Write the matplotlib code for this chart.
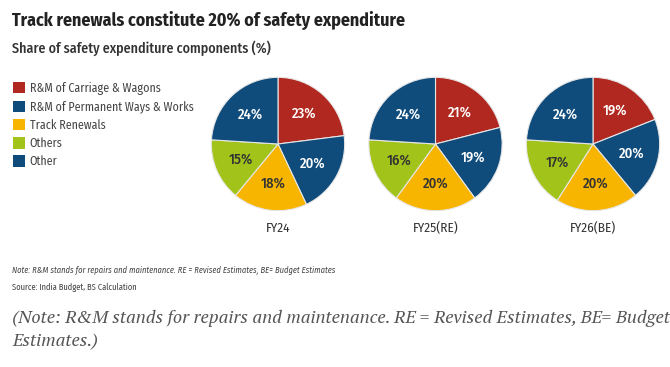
import matplotlib
matplotlib.use("Agg")
import matplotlib.pyplot as plt
from matplotlib.patches import Patch

categories = ["R&M of Carriage & Wagons", "R&M of Permanent Ways & Works",
              "Track Renewals", "Others", "Other"]
years = ["FY24", "FY25(RE)", "FY26(BE)"]
fy24 = [23, 20, 18, 15, 24]
fy25 = [21, 19, 20, 16, 24]
fy26 = [19, 20, 20, 17, 24]
series = [fy24, fy25, fy26]

colors = ["#B0281F", "#0F4C7C", "#F7B500", "#A2C31A", "#0F4C7C"]
text_colors = ["white", "white", "#333333", "#333333", "white"]

SANS = ["Fira Sans Condensed", "PT Sans Narrow", "Asap Condensed", "Open Sans", "DejaVu Sans"]
SERIF = ["PT Serif", "Liberation Serif", "DejaVu Serif"]

W, H = 670, 367
fig = plt.figure(figsize=(W / 100, H / 100), dpi=100)
fig.patch.set_facecolor("white")

def fx(px):
    return px / W

def fy(py):
    return 1 - py / H

centers = [(278, 144), (435.5, 144), (593, 144)]
r = 68
for (cx, cy), vals, yr in zip(centers, series, years):
    ax = fig.add_axes([fx(cx - r), fy(cy + r), (2 * r) / W, (2 * r) / H])
    wedges, texts = ax.pie(vals, colors=colors, startangle=90, counterclock=False,
                           radius=1, labels=[f"{v}%" for v in vals], labeldistance=0.6,
                           wedgeprops=dict(edgecolor="#e6e6e6", linewidth=0.8))
    for t, c in zip(texts, text_colors):
        t.set_color(c)
        t.set_fontsize(10.5)
        t.set_fontweight("medium")
        t.set_ha("center")
        t.set_va("center")
        t.set_family(SANS)
    ax.set_xlim(-1.02, 1.02)
    ax.set_ylim(-1.02, 1.02)
    ax.set_aspect("equal")
    ax.axis("off")
    fig.text(fx(cx), fy(228), yr, ha="center", va="center", fontsize=9.5,
             color="#333333", family=SANS)

fig.text(fx(12), fy(20), "Track renewals constitute 20% of safety expenditure",
         fontsize=12.9, fontweight="bold", color="#222222", family=SANS,
         ha="left", va="center")
fig.text(fx(12), fy(48), "Share of safety expenditure components (%)",
         fontsize=10.1, fontweight="medium", color="#333333", family=SANS,
         ha="left", va="center")

handles = [Patch(facecolor=c, edgecolor="none") for c in colors]
leg = fig.legend(handles, categories, loc="upper left", bbox_to_anchor=(fx(8), fy(77)),
                 frameon=False, handlelength=1.0, handleheight=1.1,
                 handletextpad=0.4, labelspacing=0.48, borderaxespad=0,
                 prop=dict(family=SANS, size=8.6))
for t in leg.get_texts():
    t.set_color("#444444")

fig.text(fx(12), fy(270),
         "Note: R&M stands for repairs and maintenance. RE = Revised Estimates, BE= Budget Estimates",
         fontsize=6.1, style="italic", color="#444444", family=SANS,
         ha="left", va="center")
fig.text(fx(12), fy(287), "Source: India Budget, BS Calculation",
         fontsize=6.1, color="#444444", family=SANS, ha="left", va="center")
fig.text(fx(12), fy(318),
         "(Note: R&M stands for repairs and maintenance. RE = Revised Estimates, BE= Budget",
         fontsize=13.1, style="italic", color="#555555", family=SERIF,
         ha="left", va="center")
fig.text(fx(12), fy(342), "Estimates.)",
         fontsize=13.1, style="italic", color="#555555", family=SERIF,
         ha="left", va="center")

fig.savefig("out.png", dpi=100, facecolor="white")
